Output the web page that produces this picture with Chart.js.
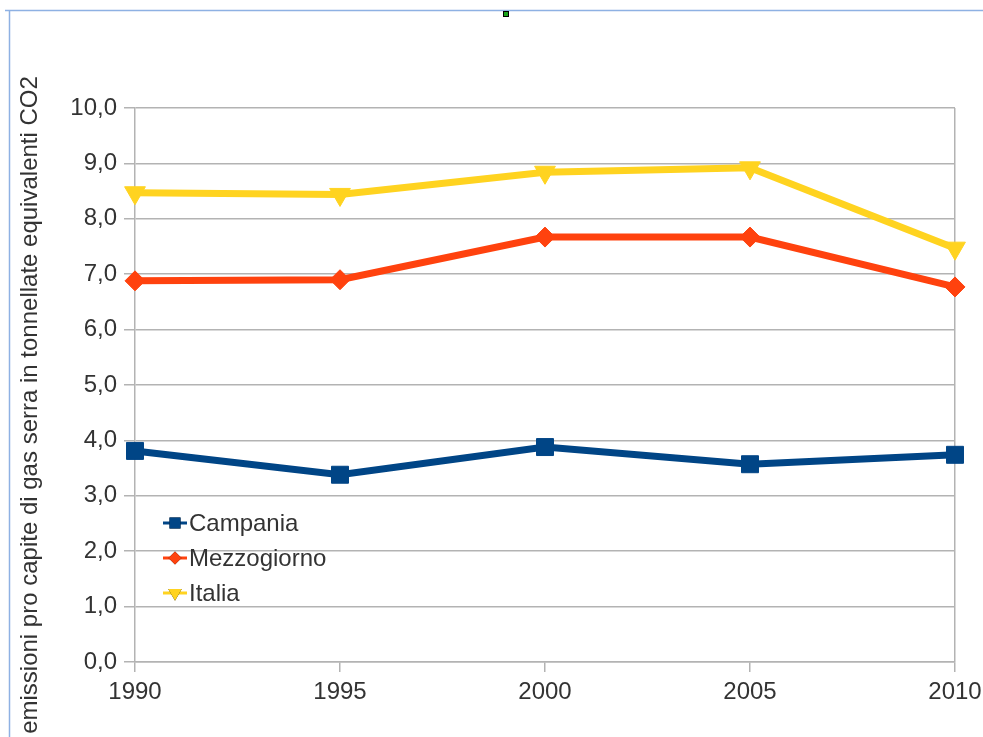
<!DOCTYPE html>
<html>
<head>
<meta charset="utf-8">
<script src="https://cdn.jsdelivr.net/npm/chart.js@4"></script>
<style>
  html, body { margin: 0; padding: 0; background: #fff; }
  #wrap { position: relative; width: 983px; height: 737px; }
</style>
</head>
<body>
<div id="wrap"><canvas id="chart" width="983" height="737"></canvas></div>
<script>
const years = ["1990", "1995", "2000", "2005", "2010"];
const campania = [3.81, 3.38, 3.88, 3.57, 3.74];
const mezzogiorno = [6.88, 6.90, 7.67, 7.67, 6.77];
const italia = [8.47, 8.44, 8.84, 8.92, 7.47];
const seriesNames = ["Campania", "Mezzogiorno", "Italia"];
const yTitle = "emissioni pro capite di gas serra in tonnellate equivalenti CO2";

const FONT = "'Liberation Sans', Arial, sans-serif";
const gridColor = "#b3b3b3";

// page frame (blue border) and axis title, drawn behind the chart
const framePlugin = {
  id: "frame",
  beforeDraw(chart) {
    const { ctx } = chart;
    ctx.save();
    ctx.strokeStyle = "#8eb1e3";
    ctx.lineWidth = 1.5;
    ctx.beginPath();
    ctx.moveTo(5, 10.5);
    ctx.lineTo(983, 10.5);
    ctx.moveTo(9.5, 10);
    ctx.lineTo(9.5, 737);
    ctx.stroke();
    ctx.fillStyle = "#1aa31a";
    ctx.strokeStyle = "#000";
    ctx.lineWidth = 1;
    ctx.fillRect(503, 11, 6, 6);
    ctx.strokeRect(503.5, 11.5, 5, 5);

    ctx.translate(30, 405);
    ctx.rotate(-Math.PI / 2);
    ctx.font = "24px " + FONT;
    ctx.fillStyle = "#333";
    ctx.textAlign = "center";
    ctx.textBaseline = "middle";
    ctx.fillText(yTitle, 0, 0);
    ctx.restore();
  },
};

// legend inside the plot area
const insideLegend = {
  id: "insideLegend",
  afterDraw(chart) {
    const { ctx } = chart;
    const x0 = 163, y0 = 523, step = 35;
    chart.data.datasets.forEach((ds, i) => {
      const y = y0 + i * step;
      ctx.save();
      ctx.strokeStyle = ds.borderColor;
      ctx.lineWidth = 3;
      ctx.beginPath();
      ctx.moveTo(x0, y);
      ctx.lineTo(x0 + 24, y);
      ctx.stroke();
      Chart.helpers.drawPoint(ctx, {
        pointStyle: ds.pointStyle,
        rotation: ds.pointRotation || 0,
        radius: ds.pointRadius * 0.65,
        borderWidth: 0,
      }, x0 + 12, y);
      ctx.fillStyle = ds.borderColor;
      ctx.fill();
      ctx.font = "24px " + FONT;
      ctx.fillStyle = "#333";
      ctx.textAlign = "left";
      ctx.textBaseline = "middle";
      ctx.fillText(ds.label, x0 + 26, y + 1);
      ctx.restore();
    });
  },
};

const mk = (label, data, color, style, radius, rot) => ({
  label,
  data,
  borderColor: color,
  backgroundColor: color,
  pointBackgroundColor: color,
  pointBorderColor: color,
  borderWidth: 7,
  pointStyle: style,
  pointRadius: radius,
  pointRotation: rot,
  pointBorderWidth: 1,
  tension: 0,
});

new Chart(document.getElementById("chart"), {
  type: "line",
  data: {
    labels: years,
    datasets: [
      mk(seriesNames[0], campania, "#004586", "rect", 12, 0),
      mk(seriesNames[1], mezzogiorno, "#ff420e", "rectRot", 10, 0),
      mk(seriesNames[2], italia, "#ffd320", "triangle", 12, 180),
    ],
  },
  options: {
    responsive: false,
    animation: false,
    layout: { autoPadding: false, padding: { top: 108, right: 28, left: 0, bottom: 0 } },
    plugins: {
      legend: { display: false },
      tooltip: { enabled: false },
    },
    scales: {
      x: {
        offset: false,
        afterFit(scale) {
          scale.height = 75;
          scale.paddingLeft = 0;
          scale.paddingRight = 0;
        },
        grid: {
          color: (c) => (c.index === years.length - 1 ? gridColor : "transparent"),
          tickColor: gridColor,
          tickLength: 10,
          lineWidth: 1.5,
        },
        border: { color: gridColor, width: 1.5 },
        ticks: {
          color: "#333",
          font: { family: FONT, size: 24 },
          padding: 6,
          maxRotation: 0,
        },
      },
      y: {
        min: 0,
        max: 10,
        afterFit(scale) { scale.width = 135; },
        grid: {
          color: gridColor,
          tickColor: gridColor,
          tickLength: 11,
          lineWidth: 1.5,
        },
        border: { color: gridColor, width: 1.5 },
        ticks: {
          stepSize: 1,
          color: "#333",
          padding: 7,
          font: { family: FONT, size: 24 },
          callback: (v) => v.toFixed(1).replace(".", ","),
        },
      },
    },
  },
  plugins: [framePlugin, insideLegend],
});
</script>
</body>
</html>
